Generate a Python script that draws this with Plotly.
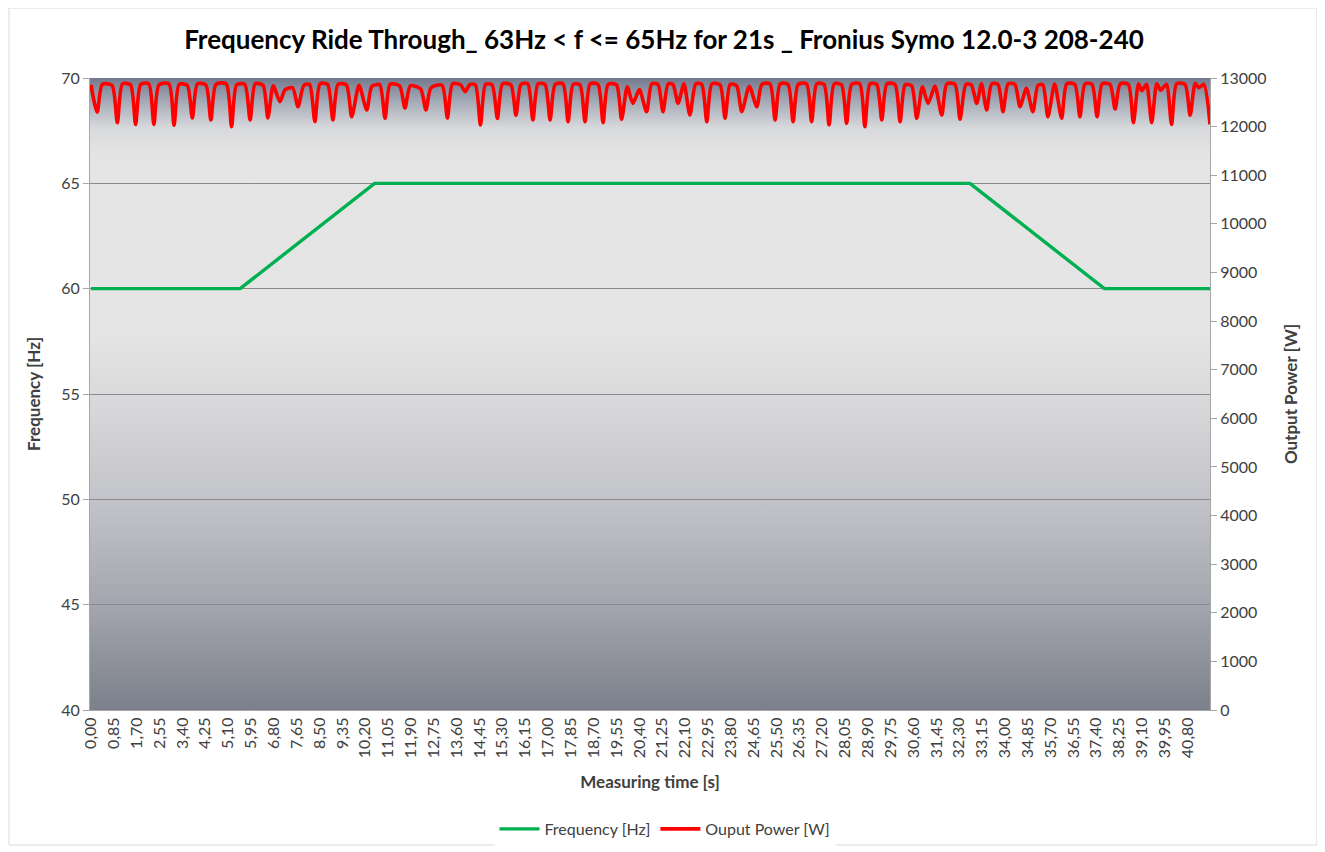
import base64
import plotly.graph_objects as go

# ---------------- data ----------------
TITLE = "Frequency Ride Through_ 63Hz < f <= 65Hz for 21s _ Fronius Symo 12.0-3 208-240"

freq_time = [0.00, 5.55, 10.55, 32.70, 37.70, 41.63]
freq_hz = [60.0, 60.0, 65.0, 65.0, 60.0, 60.0]

power_time = [
    0.00, 0.23, 0.42, 0.78, 0.98, 1.17, 1.47, 1.66, 1.85, 2.15, 2.34, 2.53, 2.90, 3.09,
    3.28, 3.58, 3.77, 3.96, 4.27, 4.46, 4.65, 5.03, 5.23, 5.42, 5.72, 5.92, 6.11, 6.40,
    6.58, 6.78, 7.03, 7.22, 7.50, 7.70, 7.92, 8.13, 8.33, 8.52, 8.80, 9.00, 9.19, 9.50,
    9.70, 9.97, 10.26, 10.45, 10.74, 10.94, 11.13, 11.48, 11.68, 11.88, 12.26, 12.46,
    12.65, 13.06, 13.26, 13.45, 13.75, 13.92, 14.10, 14.30, 14.49, 14.68, 14.92, 15.12,
    15.31, 15.62, 15.81, 16.00, 16.25, 16.44, 16.63, 16.89, 17.08, 17.27, 17.56, 17.75,
    17.94, 18.19, 18.38, 18.57, 18.86, 19.05, 19.24, 19.55, 19.74, 19.95, 20.16, 20.40,
    20.67, 20.86, 21.09, 21.28, 21.47, 21.65, 21.84, 22.06, 22.28, 22.50, 22.72, 22.91,
    23.10, 23.40, 23.59, 23.78, 24.02, 24.21, 24.49, 24.77, 24.96, 25.26, 25.45, 25.64,
    25.93, 26.12, 26.31, 26.62, 26.81, 27.00, 27.27, 27.46, 27.65, 27.92, 28.11, 28.30,
    28.60, 28.79, 28.98, 29.23, 29.42, 29.61, 29.91, 30.10, 30.29, 30.53, 30.72, 30.93,
    31.14, 31.40, 31.65, 31.84, 32.14, 32.33, 32.55, 32.75, 32.95, 33.13, 33.32, 33.51,
    33.74, 33.93, 34.12, 34.37, 34.56, 34.80, 35.04, 35.23, 35.41, 35.60, 35.85, 36.11,
    36.30, 36.60, 36.79, 36.98, 37.24, 37.43, 37.62, 37.91, 38.10, 38.29, 38.59, 38.78,
    38.97, 39.10, 39.27, 39.46, 39.65, 39.80, 40.01, 40.20, 40.39, 40.70, 40.89, 41.08,
    41.22, 41.40, 41.63,
]
power_w = [
    12860, 12300, 12870, 12850, 12081, 12880, 12860, 12047, 12870, 12880, 12047, 12860, 12880, 12027,
    12870, 12850, 12177, 12880, 12860, 12136, 12870, 12880, 11999, 12860, 12870, 12136, 12880, 12850,
    12177, 12840, 12513, 12760, 12800, 12410, 12850, 12870, 12101, 12880, 12870, 12136, 12870, 12860,
    12204, 12850, 12342, 12830, 12860, 12171, 12870, 12840, 12383, 12840, 12780, 12342,
    12800, 12850, 12177, 12880, 12860, 12720, 12870, 12860, 12034, 12870, 12860, 12167,
    12880, 12860, 12233, 12870, 12880, 12136, 12880, 12870, 12136, 12870, 12880, 12101,
    12870, 12860, 12101, 12880, 12870, 12081, 12870, 12860, 12150, 12820, 12479, 12760,
    12307, 12880, 12870, 12307, 12880, 12870, 12479, 12880, 12239, 12880, 12870, 12101,
    12880, 12860, 12171, 12870, 12840, 12307, 12830, 12410, 12870, 12880, 12136, 12880,
    12870, 12101, 12870, 12880, 12101, 12880, 12870, 12034, 12880, 12860, 12068, 12870,
    12880, 11999, 12880, 12870, 12136, 12880, 12870, 12101, 12860, 12840, 12171, 12820,
    12479, 12830, 12239, 12880, 12870, 12150, 12870, 12860, 12479, 12880, 12342, 12880,
    12870, 12307, 12880, 12870, 12410, 12790, 12307, 12850, 12860, 12204, 12880, 12171,
    12880, 12870, 12204, 12880, 12870, 12204, 12880, 12870, 12362, 12880, 12870, 12081,
    12880, 12740, 12870, 12081, 12880, 12750, 12870, 12047, 12880, 12870, 12233, 12890,
    12800, 12870, 12047,
]

x_tick_labels = [
    "0,00", "0,85", "1,70", "2,55", "3,40", "4,25", "5,10", "5,95", "6,80", "7,65",
    "8,50", "9,35", "10,20", "11,05", "11,90", "12,75", "13,60", "14,45", "15,30", "16,15",
    "17,00", "17,85", "18,70", "19,55", "20,40", "21,25", "22,10", "22,95", "23,80", "24,65",
    "25,50", "26,35", "27,20", "28,05", "28,90", "29,75", "30,60", "31,45", "32,30", "33,15",
    "34,00", "34,85", "35,70", "36,55", "37,40", "38,25", "39,10", "39,95", "40,80",
]
x_tick_values = [float(s.replace(",", ".")) for s in x_tick_labels]

freq_ticks = [40, 45, 50, 55, 60, 65, 70]
power_ticks = [0, 1000, 2000, 3000, 4000, 5000, 6000, 7000, 8000, 9000, 10000, 11000, 12000, 13000]

# ---------------- styling ----------------
FONT = "Lato"
TXT = "#404040"
GREEN = "#00B050"
RED = "#FF0000"
W, H = 1325, 852
OFF = 8  # page body margin offset compensation

# plot-area gradient (Excel-like) as an SVG background image
stops = [
    (0.00, "#737a8e"), (0.04, "#a8aeb9"), (0.08, "#d9dadd"), (0.12, "#e4e4e4"),
    (0.40, "#e5e5e5"), (0.50, "#dadadc"), (0.667, "#c3c4c9"), (0.833, "#a3a6ae"),
    (1.00, "#7c808c"),
]
stop_xml = "".join(f'<stop offset="{o}" stop-color="{c}"/>' for o, c in stops)
svg = (
    '<svg xmlns="http://www.w3.org/2000/svg" width="100" height="632" viewBox="0 0 100 632" '
    'preserveAspectRatio="none"><defs><linearGradient id="g" x1="0" y1="0" x2="0" y2="1">'
    f'{stop_xml}</linearGradient></defs><rect width="100" height="632" fill="url(#g)"/></svg>'
)
bg_uri = "data:image/svg+xml;base64," + base64.b64encode(svg.encode()).decode()

fig = go.Figure()
fig.add_trace(go.Scatter(
    x=freq_time, y=freq_hz, name="Frequency [Hz]", mode="lines",
    line=dict(color=GREEN, width=3.4), yaxis="y",
))
fig.add_trace(go.Scatter(
    x=power_time, y=power_w, name="Ouput Power [W]", mode="lines",
    line=dict(color=RED, width=3.6, shape="spline", smoothing=0.7), yaxis="y2",
))

fig.update_layout(
    width=W, height=H,
    margin=dict(l=90 - OFF, r=W - (90 - OFF) - 1120, t=78 - OFF, b=H - (78 - OFF) - 632),
    paper_bgcolor="white",
    plot_bgcolor="rgba(0,0,0,0)",
    font=dict(family=FONT, size=16, color=TXT),
    title=dict(
        text=TITLE, x=(664 - OFF) / W, xanchor="center", y=1 - (40 - OFF) / H, yanchor="middle",
        xref="container", yref="container",
        font=dict(family=FONT, size=26, color="#000000", weight="bold"),
    ),
    xaxis=dict(
        range=[-0.037, 41.63], tickmode="array", tickvals=x_tick_values, ticktext=x_tick_labels,
        tickangle=-90, showgrid=False, zeroline=False, showline=True, linecolor="#a6a6a6",
        ticks="", tickfont=dict(size=16, color=TXT),
        title=dict(text="Measuring time [s]", font=dict(size=17, color=TXT, weight="bold"), standoff=18),
    ),
    yaxis=dict(
        range=[40, 70], tickmode="array", tickvals=freq_ticks, showgrid=True, gridcolor="#8a8a8a",
        gridwidth=1, zeroline=False, showline=True, linecolor="#a6a6a6", ticks="outside",
        ticklen=6, tickcolor="#a6a6a6", tickfont=dict(size=16, color=TXT),
        title=dict(text="Frequency [Hz]", font=dict(size=17, color=TXT, weight="bold"), standoff=16),
    ),
    yaxis2=dict(
        range=[0, 13000], tickmode="array", tickvals=power_ticks, tickformat="d",
        overlaying="y", side="right",
        showgrid=False, zeroline=False, showline=True, linecolor="#a6a6a6", ticks="outside",
        ticklen=6, tickcolor="#a6a6a6", tickfont=dict(size=16, color=TXT),
        title=dict(text="Output Power [W]", font=dict(size=17, color=TXT, weight="bold"), standoff=19),
    ),
    legend=dict(
        orientation="h", xref="container", yref="container", x=(665 - OFF) / W, xanchor="center",
        y=1 - (829 - OFF) / H, yanchor="middle", font=dict(size=16, color=TXT),
        itemwidth=40, traceorder="normal",
    ),
    images=[dict(
        source=bg_uri, xref="paper", yref="paper", x=0, y=1, sizex=1, sizey=1,
        xanchor="left", yanchor="top", sizing="stretch", layer="below",
    )],
    shapes=[dict(
        type="rect", xref="paper", yref="paper", x0=-0.0723, x1=1.0955, y0=-0.2136, y1=1.1108,
        line=dict(color="#d9d9d9", width=1), fillcolor="rgba(0,0,0,0)", layer="below",
    )],
    showlegend=True,
)

fig.write_html("out.html")
